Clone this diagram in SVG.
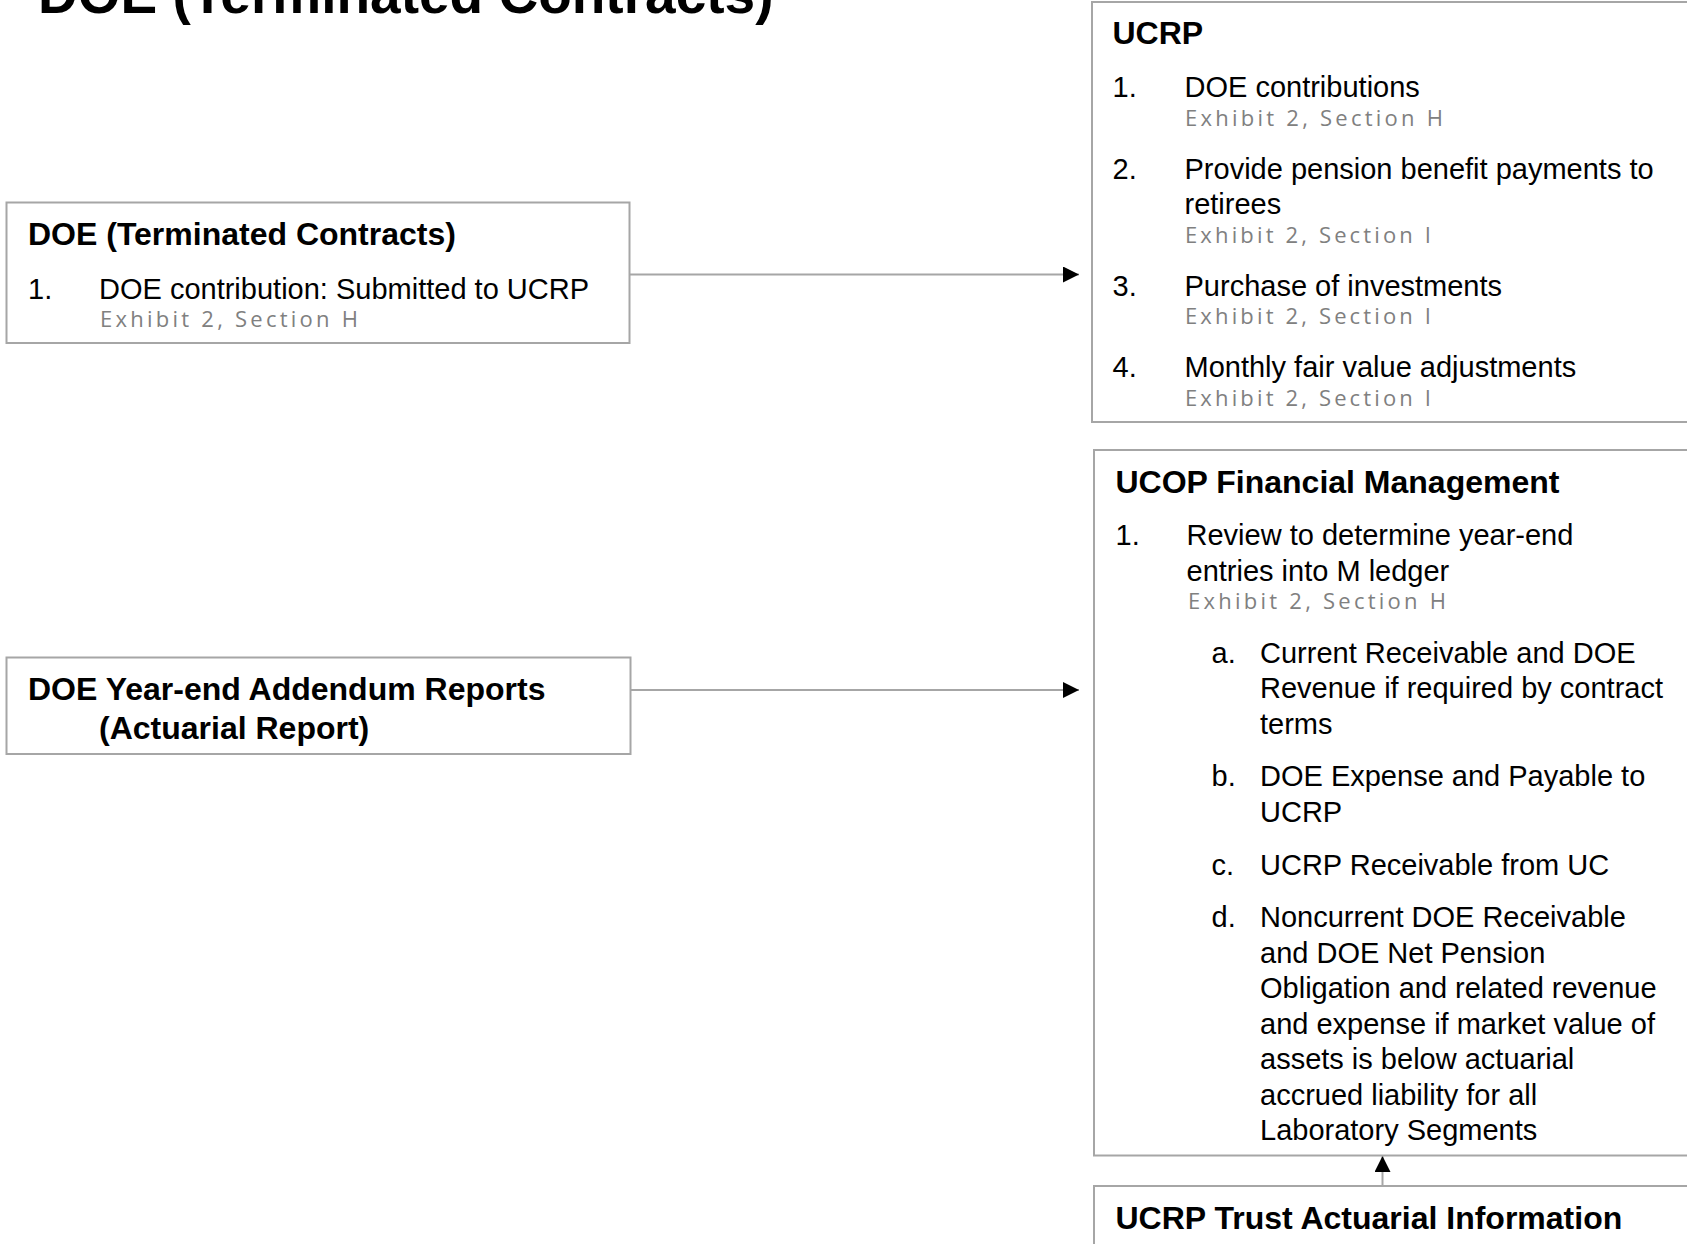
<svg xmlns="http://www.w3.org/2000/svg" width="1687" height="1244" viewBox="0 0 1687 1244">
<style>
.box{fill:#fff;stroke:#a6a6a6;stroke-width:2}
.t{font-family:"Liberation Sans",Arial,sans-serif;fill:#000}
.h{font-size:32px;font-weight:bold}
.b{font-size:29px}
.g{font-family:"Open Sans","Liberation Sans",sans-serif;font-size:22px;fill:#808080}
.c{stroke:#a6a6a6;stroke-width:2;fill:none}
</style>
<defs>
<marker id="ah" markerUnits="userSpaceOnUse" markerWidth="16" markerHeight="16" refX="16" refY="8" orient="auto">
<path d="M0,0 L16,8 L0,16 z" fill="#000"/>
</marker>
</defs>
<rect width="1687" height="1244" fill="#fff"/>
<text class="t" x="38" y="13" font-size="55" font-weight="bold">DOE (Terminated Contracts)</text>

<g id="connectors">
<line class="c" x1="630" y1="274.5" x2="1079" y2="274.5" marker-end="url(#ah)"/>
<line class="c" x1="631" y1="690" x2="1079" y2="690" marker-end="url(#ah)"/>
<line class="c" x1="1382.5" y1="1186" x2="1382.5" y2="1156" marker-end="url(#ah)"/>
</g>

<g id="doe-terminated">
<rect class="box" x="6.5" y="202.5" width="623" height="140.5"/>
<text class="t h" x="28" y="245">DOE (Terminated Contracts)</text>
<text class="t b" x="28" y="299">1.</text>
<text class="t b" x="99" y="299">DOE contribution: Submitted to UCRP</text>
<text class="g" x="100" y="327" textLength="258">Exhibit 2, Section H</text>
</g>

<g id="ucrp">
<rect class="box" x="1092" y="2" width="600" height="420"/>
<text class="t h" x="1112.5" y="44">UCRP</text>
<text class="t b" x="1112.5" y="97">1.</text>
<text class="t b" x="1184.5" y="97">DOE contributions</text>
<text class="g" x="1185" y="125.5" textLength="258">Exhibit 2, Section H</text>
<text class="t b" x="1112.5" y="179">2.</text>
<text class="t b" x="1184.5" y="179">Provide pension benefit payments to</text>
<text class="t b" x="1184.5" y="214">retirees</text>
<text class="g" x="1185" y="242.5" textLength="246">Exhibit 2, Section I</text>
<text class="t b" x="1112.5" y="295.5">3.</text>
<text class="t b" x="1184.5" y="295.5">Purchase of investments</text>
<text class="g" x="1185" y="324" textLength="246">Exhibit 2, Section I</text>
<text class="t b" x="1112.5" y="377">4.</text>
<text class="t b" x="1184.5" y="377">Monthly fair value adjustments</text>
<text class="g" x="1185" y="405.5" textLength="246">Exhibit 2, Section I</text>
</g>

<g id="doe-addendum">
<rect class="box" x="6.5" y="657.5" width="624" height="96.5"/>
<text class="t h" x="28" y="700">DOE Year-end Addendum Reports</text>
<text class="t h" x="99" y="739">(Actuarial Report)</text>
</g>

<g id="ucop">
<rect class="box" x="1094" y="450" width="600" height="705.5"/>
<text class="t h" x="1115.5" y="492.5">UCOP Financial Management</text>
<text class="t b" x="1115.5" y="545">1.</text>
<text class="t b" x="1186.5" y="545">Review to determine year-end</text>
<text class="t b" x="1186.5" y="580.5">entries into M ledger</text>
<text class="g" x="1188" y="609" textLength="258">Exhibit 2, Section H</text>
<text class="t b" x="1211.5" y="662.5">a.</text>
<text class="t b" x="1260" y="662.5">Current Receivable and DOE</text>
<text class="t b" x="1260" y="698">Revenue if required by contract</text>
<text class="t b" x="1260" y="733.5">terms</text>
<text class="t b" x="1211.5" y="786">b.</text>
<text class="t b" x="1260" y="786">DOE Expense and Payable to</text>
<text class="t b" x="1260" y="821.5">UCRP</text>
<text class="t b" x="1211.5" y="874.5">c.</text>
<text class="t b" x="1260" y="874.5">UCRP Receivable from UC</text>
<text class="t b" x="1211.5" y="927">d.</text>
<text class="t b" x="1260" y="927">Noncurrent DOE Receivable</text>
<text class="t b" x="1260" y="962.5">and DOE Net Pension</text>
<text class="t b" x="1260" y="998">Obligation and related revenue</text>
<text class="t b" x="1260" y="1033.5">and expense if market value of</text>
<text class="t b" x="1260" y="1069">assets is below actuarial</text>
<text class="t b" x="1260" y="1104.5">accrued liability for all</text>
<text class="t b" x="1260" y="1140">Laboratory Segments</text>
</g>

<g id="ucrp-trust">
<rect class="box" x="1094" y="1186" width="600" height="80"/>
<text class="t h" x="1115.5" y="1228.5">UCRP Trust Actuarial Information</text>
</g>
</svg>
